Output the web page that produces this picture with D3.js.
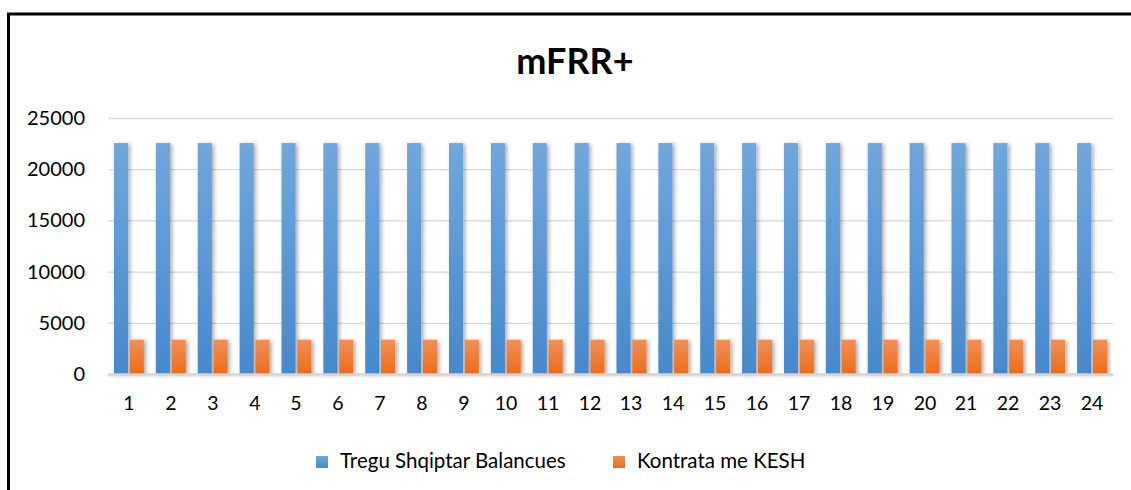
<!DOCTYPE html>
<html>
<head>
<meta charset="utf-8">
<script src="https://cdn.jsdelivr.net/npm/d3@7/dist/d3.min.js"></script>
<style>
  body { margin: 0; background: #fff; }
</style>
</head>
<body>
<svg width="1131" height="490" font-family="Lato, 'Open Sans', sans-serif"></svg>
<script>
const hours = ['1','2','3','4','5','6','7','8','9','10','11','12','13','14','15','16','17','18','19','20','21','22','23','24'];
const seriesNames = ['Tregu Shqiptar Balancues', 'Kontrata me KESH'];
const treguValues = [22550,22550,22550,22550,22550,22550,22550,22550,22550,22550,22550,22550,22550,22550,22550,22550,22550,22550,22550,22550,22550,22550,22550,22550];
const keshValues = [3350,3350,3350,3350,3350,3350,3350,3350,3350,3350,3350,3350,3350,3350,3350,3350,3350,3350,3350,3350,3350,3350,3350,3350];
const yTicks = [0, 5000, 10000, 15000, 20000, 25000];

const svg = d3.select('svg');
const width = +svg.attr('width');
const height = +svg.attr('height');

const margin = { left: 108, right: 18, top: 118, bottom: 116 };

// outer frame (only top and left show in the picture)
svg.append('path')
  .attr('d', `M8.5,${height} V14 H${width}`)
  .attr('fill', 'none')
  .attr('stroke', '#000')
  .attr('stroke-width', 3);

const defs = svg.append('defs');
const grads = [
  { id: 'gBlue', top: '#6fa7dd', bottom: '#4689cc' },
  { id: 'gOrange', top: '#f28f58', bottom: '#ec6c1a' },
];
grads.forEach((g) => {
  const lg = defs.append('linearGradient').attr('id', g.id)
    .attr('x1', 0).attr('y1', 0).attr('x2', 0).attr('y2', 1);
  lg.append('stop').attr('offset', '0%').attr('stop-color', g.top);
  lg.append('stop').attr('offset', '100%').attr('stop-color', g.bottom);
});
// keep the filter region tight so it does not spill over the labels
const shadow = defs.append('filter').attr('id', 'shadow')
  .attr('x', '-40%').attr('y', '-3%').attr('width', '200%').attr('height', '106%');
shadow.append('feDropShadow')
  .attr('dx', 2).attr('dy', 1).attr('stdDeviation', 2.2)
  .attr('flood-color', '#000').attr('flood-opacity', 0.35);

const data = hours.map((h, i) => ({ hour: h, values: [treguValues[i], keshValues[i]] }));

const xScale = d3.scaleBand().domain(hours).range([margin.left, width - margin.right]).padding(0);
const xInner = d3.scaleBand().domain(seriesNames)
  .range([6, xScale.bandwidth() - 6]).paddingInner(0.11).paddingOuter(0);
const yScale = d3.scaleLinear().domain([0, 25000]).range([height - margin.bottom, margin.top]);

// gridlines
svg.append('g')
  .selectAll('line')
  .data(yTicks.filter((d) => d > 0))
  .enter()
  .append('line')
  .attr('x1', margin.left).attr('x2', width - margin.right)
  .attr('y1', (d) => yScale(d) + 0.5).attr('y2', (d) => yScale(d) + 0.5)
  .attr('stroke', '#d9d9d9').attr('stroke-width', 1.3);

// y axis labels
svg.append('g')
  .selectAll('text')
  .data(yTicks)
  .enter()
  .append('text')
  .attr('x', margin.left - 23)
  .attr('y', (d) => Math.round(yScale(d) + 7))
  .attr('text-anchor', 'end')
  .attr('font-size', 20)
  .attr('fill', '#000')
  .text(d3.format('d'));

// bars
const colors = ['url(#gBlue)', 'url(#gOrange)'];
const groups = svg.selectAll('.hour')
  .data(data)
  .enter()
  .append('g')
  .attr('class', 'hour')
  .attr('transform', (d) => `translate(${xScale(d.hour)},0)`);

groups.selectAll('rect')
  .data((d) => d.values.map((v, i) => ({ name: seriesNames[i], value: v, color: colors[i] })))
  .enter()
  .append('rect')
  .attr('x', (d) => xInner(d.name))
  .attr('y', (d) => yScale(d.value))
  .attr('width', xInner.bandwidth())
  .attr('height', (d) => yScale(0) - yScale(d.value))
  .attr('fill', (d) => d.color)
  .attr('filter', 'url(#shadow)');

// baseline with a soft line under it in place of a shadow
svg.append('line')
  .attr('x1', margin.left).attr('x2', width - margin.right)
  .attr('y1', yScale(0) + 2.5).attr('y2', yScale(0) + 2.5)
  .attr('stroke', '#ececec').attr('stroke-width', 2);
svg.append('line')
  .attr('x1', margin.left).attr('x2', width - margin.right)
  .attr('y1', yScale(0) + 0.5).attr('y2', yScale(0) + 0.5)
  .attr('stroke', '#d4d4d4').attr('stroke-width', 2.5);

// x axis labels
svg.append('g')
  .selectAll('text')
  .data(hours)
  .enter()
  .append('text')
  .attr('x', (d) => Math.round(xScale(d) + xScale.bandwidth() / 2))
  .attr('y', Math.round(yScale(0) + 36))
  .attr('text-anchor', 'middle')
  .attr('font-size', 19.5)
  .attr('fill', '#000')
  .text((d) => d);

// title
svg.append('text')
  .attr('x', 575).attr('y', 74)
  .attr('text-anchor', 'middle')
  .attr('font-size', 36)
  .attr('font-weight', 'bold')
  .text('mFRR+');

// legend
const legendX = [316, 613];
const legend = svg.selectAll('.legend')
  .data(seriesNames)
  .enter()
  .append('g')
  .attr('class', 'legend')
  .attr('transform', (d, i) => `translate(${legendX[i]}, 456)`);
legend.append('rect')
  .attr('width', 12).attr('height', 12)
  .attr('fill', (d, i) => colors[i]);
legend.append('text')
  .attr('x', 24).attr('y', 12)
  .attr('font-size', 20.5)
  .text((d) => d);
</script>
</body>
</html>
